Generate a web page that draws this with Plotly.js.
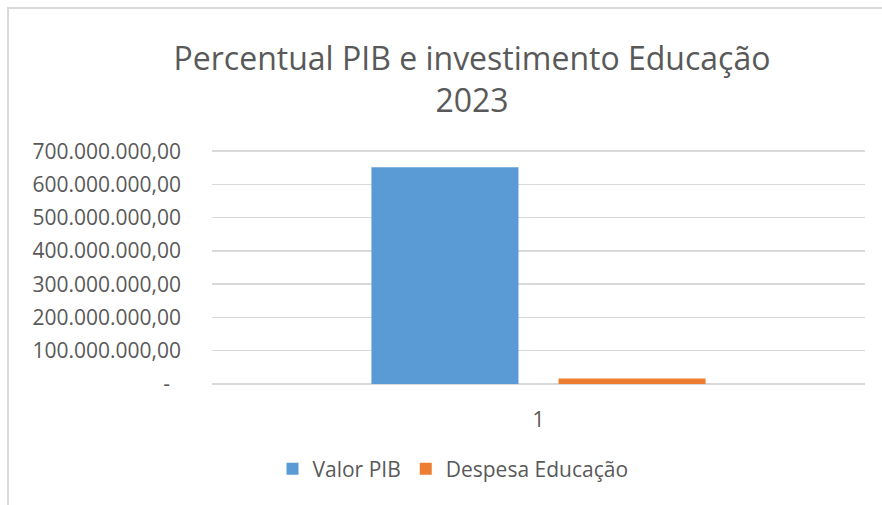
<!DOCTYPE html>
<html>
<head>
<meta charset="utf-8">
<script src="https://cdn.plot.ly/plotly-3.0.1.min.js"></script>
<style>
html,body{margin:0;padding:0;background:#fff;}
#wrap{position:relative;width:882px;height:505px;overflow:hidden;}
#chart{position:absolute;left:0;top:0;width:882px;height:505px;}
#frame{position:absolute;left:7px;top:7px;width:900px;height:520px;border-left:2px solid #d9d9d9;border-top:2px solid #d9d9d9;pointer-events:none;}
</style>
</head>
<body>
<div id="wrap"><div id="chart"></div><div id="frame"></div></div>
<script>
const categories = ["1"];
const valorPIB = [652000000];
const despesaEducacao = [16500000];
const seriesNames = ["Valor PIB", "Despesa Educação"];
const yTickVals = [0, 100000000, 200000000, 300000000, 400000000, 500000000, 600000000, 700000000];
const yTickText = ["-\u00a0\u00a0", "100.000.000,00", "200.000.000,00", "300.000.000,00", "400.000.000,00", "500.000.000,00", "600.000.000,00", "700.000.000,00"];
const titleText = "Percentual PIB e investimento Educação<br>2023";

const font = "'Open Sans', 'Noto Sans', sans-serif";
const grey = "#595959";

const traces = [
  {type:"bar", x:categories, y:valorPIB, name:seriesNames[0], marker:{color:"#5B9BD5"}, hoverinfo:"y"},
  {type:"bar", x:categories, y:despesaEducacao, name:seriesNames[1], marker:{color:"#ED7D31"}, hoverinfo:"y"}
];

const layout = {
  width:882, height:505,
  paper_bgcolor:"rgba(0,0,0,0)", plot_bgcolor:"#fff",
  margin:{l:212, r:17, t:149, b:120.5, pad:0},
  font:{family:font, color:grey, size:21},
  title:{text:titleText, font:{family:font, size:32, color:grey}, xref:"container", x:472/882, xanchor:"center", yref:"container", y:1-70/505, yanchor:"top"},
  barmode:"group", bargap:0.427, bargroupgap:0.214,
  xaxis:{type:"category", showgrid:false, zeroline:false, showline:false, ticks:"", ticklabelstandoff:21, tickfont:{size:21, color:grey}},
  yaxis:{range:[0,706500000], tickvals:yTickVals, ticktext:yTickText, showgrid:true, gridcolor:"#d9d9d9", gridwidth:1.5, zeroline:true, zerolinecolor:"#d9d9d9", zerolinewidth:1.5, showline:false, ticks:"", ticklabelstandoff:30, tickfont:{size:21, color:grey}},
  showlegend:true,
  legend:{orientation:"h", xref:"container", x:453/882, xanchor:"center", yref:"container", y:1-469/505, yanchor:"middle", font:{size:21, color:grey}, itemwidth:30, traceorder:"normal"}
};

Plotly.newPlot("chart", traces, layout, {displayModeBar:false, staticPlot:true});
</script>
</body>
</html>
